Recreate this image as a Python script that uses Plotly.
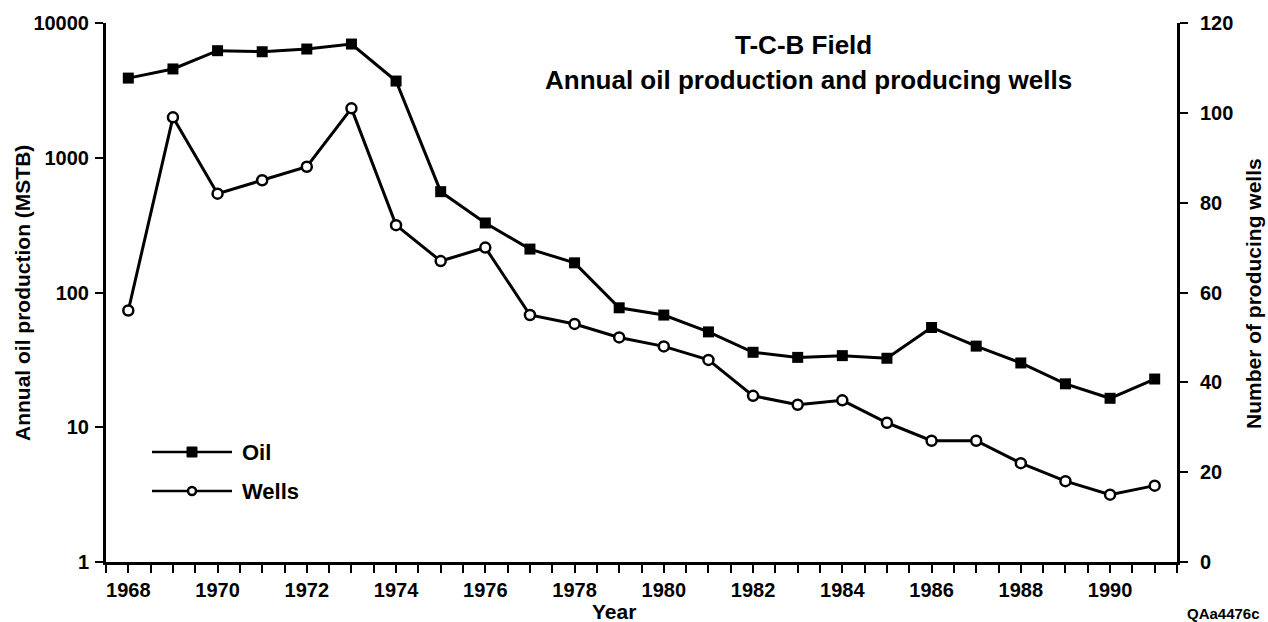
import plotly.graph_objects as go

# T-C-B Field: annual oil production (MSTB, log scale) and producing wells
years = list(range(1968, 1992))
oil_mstb = [3900, 4560, 6230, 6120, 6410, 6980, 3710, 560, 328, 210, 166, 77,
            68, 51, 36, 33, 34, 32.5, 55, 40, 30, 21, 16.4, 22.8]
wells = [56, 99, 82, 85, 88, 101, 75, 67, 70, 55, 53, 50,
         48, 45, 37, 35, 36, 31, 27, 27, 22, 18, 15, 17]

oil_ticks = [1, 10, 100, 1000, 10000]
oil_tick_text = ["1", "10", "100", "1000", "10000"]
wells_ticks = [0, 20, 40, 60, 80, 100, 120]

FONT = "Liberation Sans, Arial, Helvetica, sans-serif"
W, H = 1268, 622
L, R, T, B = 106, 91, 23, 60


def px_x(px):
    """Pixel column -> paper x."""
    return (px - L) / (W - L - R)


def px_y(py):
    """Pixel row -> paper y."""
    return (H - B - py) / (H - T - B)


def bold_font(size):
    return dict(family=FONT, size=size, color="black", weight="bold")


fig = go.Figure()

fig.add_trace(go.Scatter(
    x=years, y=oil_mstb, name="Oil", mode="lines+markers",
    line=dict(color="black", width=3),
    marker=dict(symbol="square", size=11, color="black"),
    yaxis="y",
))
fig.add_trace(go.Scatter(
    x=years, y=wells, name="Wells", mode="lines+markers",
    line=dict(color="black", width=3),
    marker=dict(symbol="circle", size=10, color="white",
                line=dict(color="black", width=2.5)),
    yaxis="y2",
))

axis_common = dict(
    showline=True, linecolor="black", linewidth=3,
    ticks="outside", ticklen=8, tickwidth=2, tickcolor="black",
    showgrid=False, zeroline=False, automargin=False,
    tickfont=bold_font(20),
)

fig.update_layout(
    width=W, height=H,
    margin=dict(l=L, r=R, t=T, b=B, pad=0, autoexpand=False),
    paper_bgcolor="white", plot_bgcolor="white",
    showlegend=False,
    font=dict(family=FONT, color="black"),
    xaxis=dict(
        range=[1967.5, 1991.5], tick0=1968, dtick=2,
        minor=dict(dtick=0.5, tick0=1968, ticks="outside", ticklen=8,
                   tickwidth=2, tickcolor="black"),
        **axis_common,
    ),
    yaxis=dict(
        type="log", range=[0, 4],
        tickvals=oil_ticks, ticktext=oil_tick_text,
        ticklabelstandoff=2,
        **axis_common,
    ),
    yaxis2=dict(
        overlaying="y", side="right", range=[0, 120],
        tickvals=wells_ticks, ticklabelstandoff=8,
        **axis_common,
    ),
)

# Axis titles
fig.add_annotation(text="Year", xref="paper", yref="paper",
                   x=px_x(614), y=px_y(611), showarrow=False,
                   xanchor="center", yanchor="middle", font=bold_font(21))
fig.add_annotation(text="Annual oil production (MSTB)", xref="paper",
                   yref="paper", x=px_x(22), y=px_y(293), textangle=-90,
                   showarrow=False, xanchor="center", yanchor="middle",
                   font=bold_font(21))
fig.add_annotation(text="Number of producing wells", xref="paper",
                   yref="paper", x=px_x(1253), y=px_y(294), textangle=-90,
                   showarrow=False, xanchor="center", yanchor="middle",
                   font=bold_font(21))

# Chart titles
fig.add_annotation(text="T-C-B Field", xref="paper", yref="paper",
                   x=px_x(803), y=px_y(45), showarrow=False,
                   xanchor="center", yanchor="middle", font=bold_font(26))
fig.add_annotation(text="Annual oil production and producing wells",
                   xref="paper", yref="paper",
                   x=px_x(808), y=px_y(80), showarrow=False,
                   xanchor="center", yanchor="middle", font=bold_font(26))
fig.add_annotation(text="QAa4476c", xref="paper", yref="paper",
                   x=px_x(1223), y=px_y(613), showarrow=False,
                   xanchor="center", yanchor="middle", font=bold_font(15))

# Legend keys drawn in the lower-left corner of the plot
for key_y, label, is_oil in [(452, "Oil", True), (491, "Wells", False)]:
    fig.add_shape(type="line", xref="paper", yref="paper",
                  x0=px_x(152), x1=px_x(232), y0=px_y(key_y), y1=px_y(key_y),
                  line=dict(color="black", width=2.5))
    if is_oil:
        fig.add_shape(type="rect", xref="paper", yref="paper",
                      x0=px_x(187), x1=px_x(197),
                      y0=px_y(key_y + 5), y1=px_y(key_y - 5),
                      line=dict(color="black", width=1), fillcolor="black")
    else:
        fig.add_shape(type="circle", xref="paper", yref="paper",
                      x0=px_x(188), x1=px_x(196),
                      y0=px_y(key_y + 4), y1=px_y(key_y - 4),
                      line=dict(color="black", width=2.5), fillcolor="white")
    fig.add_annotation(text=label, xref="paper", yref="paper",
                       x=px_x(240), y=px_y(key_y), showarrow=False,
                       xanchor="left", yanchor="middle", font=bold_font(22))

fig.write_html("out.html")
